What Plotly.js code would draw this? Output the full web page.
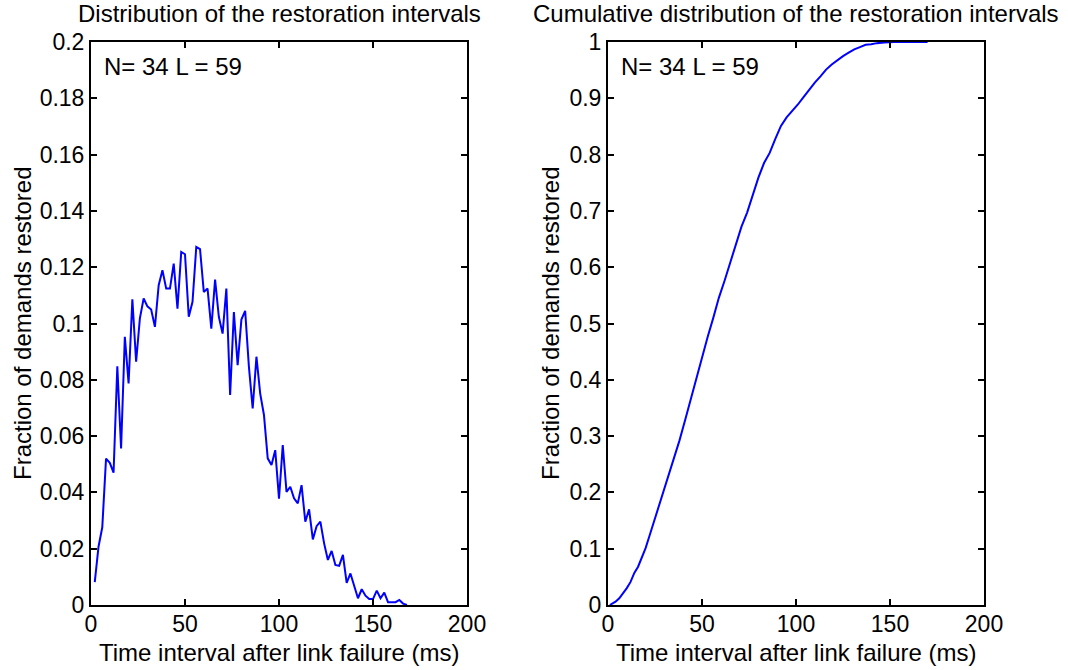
<!DOCTYPE html>
<html>
<head>
<meta charset="utf-8">
<script src="https://cdn.plot.ly/plotly-3.0.1.min.js"></script>
<style>html,body{margin:0;padding:0;background:#fff;}#chart{width:1068px;height:670px;}</style>
</head>
<body>
<div id="chart"></div>
<script>
// Left panel: distribution of restoration intervals
const distX = [2,4,6,8,10,12,14,16,18,20,22,24,26,28,30,32,34,36,38,40,42,44,46,48,50,52,54,56,58,60,62,64,66,68,70,72,74,76,78,80,82,84,86,88,90,92,94,96,98,100,102,104,106,108,110,112,114,116,118,120,122,124,126,128,130,132,134,136,138,140,142,144,146,148,150,152,154,156,158,160,162,164,166,168];
const distY = [0.0081,0.0207,0.0276,0.052,0.0505,0.047,0.0848,0.0556,0.0953,0.0787,0.1086,0.0864,0.1018,0.1089,0.1061,0.1050,0.0988,0.1136,0.1189,0.1124,0.1124,0.1213,0.1053,0.1254,0.1246,0.1024,0.1077,0.1272,0.1264,0.1112,0.1124,0.0982,0.1156,0.1024,0.0964,0.1124,0.0746,0.1041,0.0852,0.1014,0.1045,0.0846,0.0698,0.0882,0.0751,0.0675,0.0521,0.0497,0.055,0.0378,0.0568,0.0402,0.042,0.0379,0.0361,0.0426,0.0296,0.034,0.0233,0.028,0.0296,0.0219,0.016,0.0192,0.0142,0.0139,0.0178,0.0079,0.0112,0.0071,0.0024,0.0056,0.0033,0.0021,0.0021,0.0051,0.0024,0.0044,0.001,0.001,0.001,0.0018,0.0005,0];

// Right panel: cumulative distribution
const cdfX = [1,4,6,8,10,12,14,16,18,20,22,24,26,28,30,33,36,38,41,44,47,50,53,56,59,62,65,68,71,74,77,80,83,86,89,92,95,98,101,104,107,110,113,116,119,122,125,128,131,134,137,140,143,147,152,170];
const cdfY = [0,0.006,0.012,0.02,0.03,0.041,0.057,0.068,0.085,0.101,0.122,0.143,0.166,0.189,0.21,0.24,0.272,0.292,0.328,0.366,0.402,0.44,0.476,0.51,0.546,0.576,0.607,0.64,0.672,0.697,0.728,0.759,0.785,0.803,0.828,0.851,0.866,0.877,0.889,0.902,0.916,0.928,0.939,0.951,0.96,0.968,0.975,0.981,0.987,0.991,0.995,0.996,0.998,0.999,1.0,1.0];

const xTicks = [0,50,100,150,200];
const xTickText = ["0","50","100","150","200"];
const yTicksLeft = [0,0.02,0.04,0.06,0.08,0.1,0.12,0.14,0.16,0.18,0.2];
const yTickTextLeft = ["0","0.02","0.04","0.06","0.08","0.1","0.12","0.14","0.16","0.18","0.2"];
const yTicksRight = [0,0.1,0.2,0.3,0.4,0.5,0.6,0.7,0.8,0.9,1];
const yTickTextRight = ["0","0.1","0.2","0.3","0.4","0.5","0.6","0.7","0.8","0.9","1"];

const titleLeft = "Distribution of the restoration intervals";
const titleRight = "Cumulative distribution of the restoration intervals";
const xLabel = "Time interval after link failure (ms)";
const yLabel = "Fraction of demands restored";
const note = "N= 34 L = 59";

const W = 1068, H = 670;
const FONT = "Arial, 'Liberation Sans', sans-serif";
const px = v => v / W;
const py = v => (H - v) / H;

const axisCommon = {
  showline: true, mirror: 'ticks', linecolor: '#000', linewidth: 2,
  ticks: 'inside', ticklen: 6, tickwidth: 2, tickcolor: '#000',
  showgrid: false, zeroline: false, fixedrange: true,
  tickfont: {family: FONT, size: 23, color: '#000'}
};

const traces = [
  {x: distX, y: distY, type: 'scatter', mode: 'lines', line: {color: '#0000ff', width: 2}, xaxis: 'x', yaxis: 'y', hoverinfo: 'none'},
  {x: cdfX, y: cdfY, type: 'scatter', mode: 'lines', line: {color: '#0000ff', width: 2}, xaxis: 'x2', yaxis: 'y2', hoverinfo: 'none'}
];

const layout = {
  width: W, height: H,
  margin: {l: 0, r: 0, t: 0, b: 0},
  paper_bgcolor: '#fff', plot_bgcolor: '#fff',
  showlegend: false,
  xaxis: Object.assign({}, axisCommon, {domain: [px(91), px(467)], range: [0, 200], tickvals: xTicks, ticktext: xTickText, anchor: 'y', ticklabelstandoff: -3}),
  yaxis: Object.assign({}, axisCommon, {domain: [py(605), py(42)], range: [0, 0.2], tickvals: yTicksLeft, ticktext: yTickTextLeft, anchor: 'x'}),
  xaxis2: Object.assign({}, axisCommon, {domain: [px(608), px(984)], range: [0, 200], tickvals: xTicks, ticktext: xTickText, anchor: 'y2', ticklabelstandoff: -3}),
  yaxis2: Object.assign({}, axisCommon, {domain: [py(605), py(42)], range: [0, 1], tickvals: yTicksRight, ticktext: yTickTextRight, anchor: 'x2'}),
  annotations: [
    {text: titleLeft, xref: 'paper', yref: 'paper', x: px(279), y: py(13), xanchor: 'center', yanchor: 'middle', showarrow: false, font: {family: FONT, size: 24, color: '#000'}},
    {text: titleRight, xref: 'paper', yref: 'paper', x: px(796), y: py(13), xanchor: 'center', yanchor: 'middle', showarrow: false, font: {family: FONT, size: 24, color: '#000'}},
    {text: xLabel, xref: 'paper', yref: 'paper', x: px(279), y: py(652), xanchor: 'center', yanchor: 'middle', showarrow: false, font: {family: FONT, size: 24, color: '#000'}},
    {text: xLabel, xref: 'paper', yref: 'paper', x: px(796), y: py(652), xanchor: 'center', yanchor: 'middle', showarrow: false, font: {family: FONT, size: 24, color: '#000'}},
    {text: yLabel, xref: 'paper', yref: 'paper', x: px(22), y: py(323), xanchor: 'center', yanchor: 'middle', textangle: -90, showarrow: false, font: {family: FONT, size: 24, color: '#000'}},
    {text: yLabel, xref: 'paper', yref: 'paper', x: px(550), y: py(323), xanchor: 'center', yanchor: 'middle', textangle: -90, showarrow: false, font: {family: FONT, size: 24, color: '#000'}},
    {text: note, xref: 'paper', yref: 'paper', x: px(102), y: py(66), xanchor: 'left', yanchor: 'middle', showarrow: false, font: {family: FONT, size: 24, color: '#000'}},
    {text: note, xref: 'paper', yref: 'paper', x: px(619), y: py(66), xanchor: 'left', yanchor: 'middle', showarrow: false, font: {family: FONT, size: 24, color: '#000'}}
  ]
};

Plotly.newPlot('chart', traces, layout, {displayModeBar: false, staticPlot: true});
</script>
</body>
</html>
